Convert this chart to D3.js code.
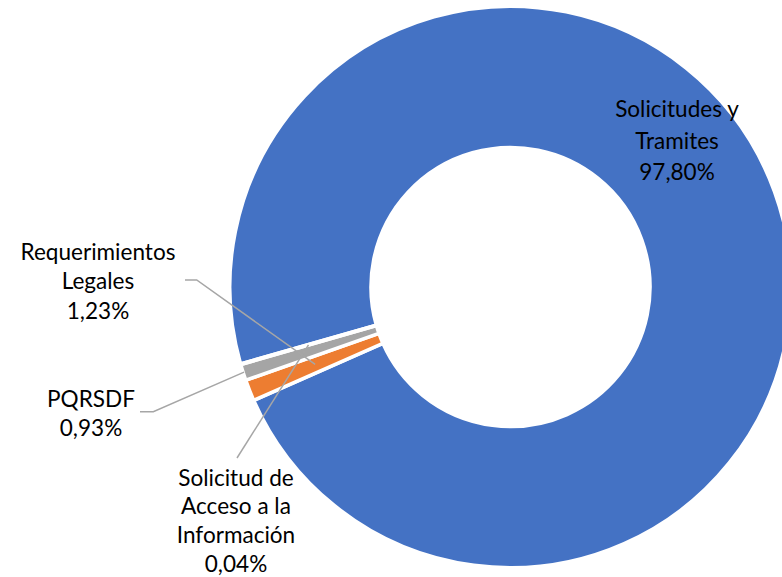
<!DOCTYPE html>
<html>
<head>
<meta charset="utf-8">
<script src="https://cdn.jsdelivr.net/npm/d3@7/dist/d3.min.js"></script>
<style>
  html, body { margin: 0; padding: 0; background: #fff; }
  svg { display: block; }
</style>
</head>
<body>
<svg id="chart" width="782" height="577"></svg>
<script>
// ---- data ----
const categories = ["Solicitudes y Tramites", "Requerimientos Legales", "PQRSDF", "Solicitud de Acceso a la Información"];
const values = [97.80, 1.23, 0.93, 0.04];
const labelLines = [["Solicitudes y", "Tramites"], ["Requerimientos", "Legales"], ["PQRSDF"], ["Solicitud de", "Acceso a la", "Información"]];
const colors = ["#4472C4", "#ED7D31", "#A5A5A5", "#FFC000"];

// ---- layout ----
const W = 782, H = 577;
const cx = 510.5, cy = 287;
const outerR = 280.7, innerR = 139.5;
const startDeg = 254.1;
const fontFamily = "Lato, 'Open Sans', sans-serif";

const svg = d3.select("#chart");

// measure font size so that widths resemble the original Calibri 18pt
const probe = svg.append("text").attr("font-family", fontFamily).attr("font-size", 100).text("Requerimientos");
const probeLen = probe.node().getComputedTextLength();
probe.remove();
const fontSize = 100 * 155 / probeLen;

const pie = d3.pie().sort(null).value(d => d)
  .startAngle(startDeg * Math.PI / 180)
  .endAngle(startDeg * Math.PI / 180 + 2 * Math.PI);
const arcs = pie(values);
const arc = d3.arc().innerRadius(innerR).outerRadius(outerR);

const g = svg.append("g").attr("transform", `translate(${cx},${cy})`);
g.selectAll("path.slice").data(arcs).enter().append("path")
  .attr("class", "slice")
  .attr("d", arc)
  .attr("fill", (d, i) => colors[i])
  .attr("stroke", "#fff")
  .attr("stroke-width", 3.5)
  .attr("stroke-linejoin", "miter");

// label configuration (layout only)
const labelCfg = [
  { x: 677, y: 117, dy: 31.5, leader: null },
  { x: 98,  y: 260, dy: 29.3, leader: { pts: [[185, 280], [196.7, 280]], r: (innerR + outerR) / 2 } },
  { x: 91,  y: 406.5, dy: 29, leader: { pts: [[140, 411.7], [153.3, 411.7]], r: outerR - 1 } },
  { x: 236, y: 485.5, dy: 28.8, leader: { pts: [[237, 458]], r: (innerR + outerR) / 2 } }
];

const fmt = v => d3.format(".2f")(v).replace(".", ",") + "%";

// leader lines
arcs.forEach((a, i) => {
  const cfg = labelCfg[i];
  if (!cfg.leader) return;
  const mid = (a.startAngle + a.endAngle) / 2;
  const end = [cx + cfg.leader.r * Math.sin(mid), cy - cfg.leader.r * Math.cos(mid)];
  const pts = cfg.leader.pts.concat([end]);
  svg.append("path")
    .attr("d", d3.line()(pts))
    .attr("fill", "none")
    .attr("stroke", "#A6A6A6")
    .attr("stroke-width", 1.5);
});

// labels
arcs.forEach((a, i) => {
  const cfg = labelCfg[i];
  const lines = labelLines[i].concat([fmt(values[i])]);
  const t = svg.append("text")
    .attr("font-family", fontFamily)
    .attr("font-size", fontSize)
    .attr("fill", "#000")
    .attr("text-anchor", "middle");
  lines.forEach((ln, k) => {
    t.append("tspan").attr("x", cfg.x).attr("y", cfg.y + k * cfg.dy).text(ln);
  });
});
</script>
</body>
</html>
